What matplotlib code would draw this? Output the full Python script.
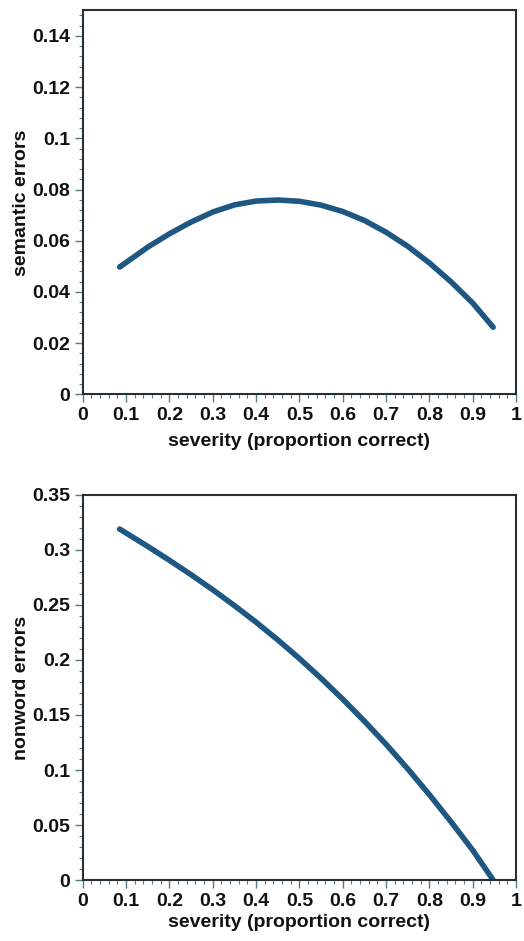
import matplotlib
matplotlib.use("Agg")
import matplotlib.pyplot as plt
from matplotlib.ticker import MultipleLocator, FuncFormatter

plt.rcParams['font.family'] = ['Liberation Sans', 'DejaVu Sans']
plt.rcParams['font.weight'] = 'bold'

# semantic errors vs severity
sem_x = [0.085, 0.10, 0.15, 0.20, 0.25, 0.30, 0.35, 0.40, 0.45, 0.50, 0.55, 0.60,
         0.65, 0.70, 0.75, 0.80, 0.85, 0.90, 0.947]
sem_y = [0.0497, 0.0515, 0.0575, 0.0627, 0.0673, 0.0712, 0.0740, 0.0755, 0.0759, 0.0754,
         0.0739, 0.0714, 0.0679, 0.0633, 0.0578, 0.0513, 0.0439, 0.0356, 0.0262]

# nonword errors vs severity
non_x = [0.085, 0.10, 0.15, 0.20, 0.25, 0.30, 0.35, 0.40, 0.45, 0.50, 0.55, 0.60,
         0.65, 0.70, 0.75, 0.80, 0.85, 0.90, 0.947]
non_y = [0.319, 0.3154, 0.3032, 0.2906, 0.2775, 0.2638, 0.2494, 0.2343, 0.2183, 0.2013,
         0.1833, 0.1643, 0.1443, 0.1233, 0.1010, 0.0775, 0.0528, 0.0270, 0.0]

x_ticks = [0, 0.1, 0.2, 0.3, 0.4, 0.5, 0.6, 0.7, 0.8, 0.9, 1]
sem_yticks = [0, 0.02, 0.04, 0.06, 0.08, 0.1, 0.12, 0.14]
non_yticks = [0, 0.05, 0.1, 0.15, 0.2, 0.25, 0.3, 0.35]

line_color = '#1d5782'
tick_color = '#4f7d8c'
spine_color = '#2b2f33'

fig = plt.figure(figsize=(5.24, 9.41), dpi=100)
ax1 = fig.add_axes([0.158, 0.581, 0.827, 0.408])
ax2 = fig.add_axes([0.158, 0.0648, 0.827, 0.4092])

fmt = FuncFormatter(lambda v, p: ('%g' % round(v, 4)))

def style(ax, yticks, ylim, yminor, ylabel, xpad):
    ax.set_xlim(0, 1)
    ax.set_ylim(*ylim)
    ax.set_xticks(x_ticks)
    ax.set_yticks(yticks)
    ax.xaxis.set_minor_locator(MultipleLocator(0.02))
    ax.yaxis.set_minor_locator(MultipleLocator(yminor))
    ax.xaxis.set_major_formatter(fmt)
    ax.yaxis.set_major_formatter(fmt)
    ax.tick_params(which='major', direction='out', length=6, width=1, color=tick_color,
                   labelsize=14, pad=3, labelcolor='#111111')
    ax.tick_params(which='minor', direction='out', length=3, width=0.8, color=tick_color)
    for s in ax.spines.values():
        s.set_color(spine_color)
        s.set_linewidth(1.5)
    for lab in ax.get_xticklabels() + ax.get_yticklabels():
        lab.set_fontweight('bold')
    ax.set_xlabel('severity (proportion correct)', fontsize=14, fontweight='bold',
                  labelpad=xpad, color='#111111')
    ax.set_ylabel(ylabel, fontsize=14, fontweight='bold', labelpad=2, color='#111111')

ax1.plot(sem_x, sem_y, color=line_color, lw=4, solid_capstyle='round')
style(ax1, sem_yticks, (0, 0.15), 0.004, 'semantic errors', 6.5)

ax2.plot(non_x, non_y, color=line_color, lw=4, solid_capstyle='round')
style(ax2, non_yticks, (0, 0.35), 0.01, 'nonword errors', 3)

fig.savefig('out.png', dpi=100)
